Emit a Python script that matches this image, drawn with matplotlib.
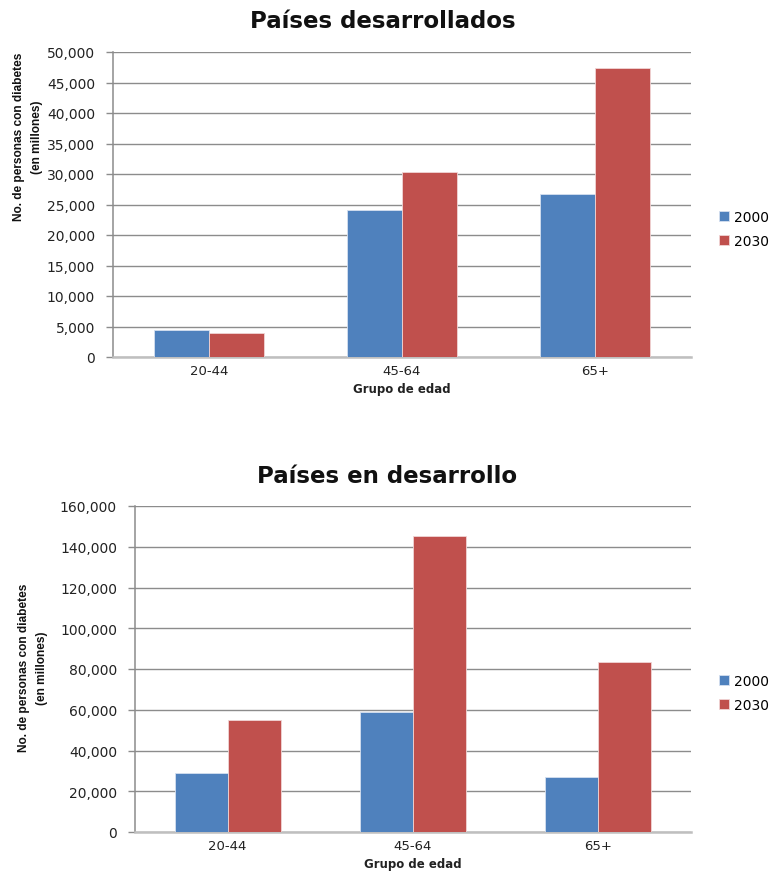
import matplotlib
matplotlib.use("Agg")
import matplotlib.pyplot as plt
import numpy as np

# Data
groups = ["20-44", "45-64", "65+"]
series_names = ["2000", "2030"]
developed_2000 = [4500, 24100, 26700]
developed_2030 = [3900, 30300, 47400]
developing_2000 = [28800, 58700, 27200]
developing_2030 = [54800, 145300, 83400]

dev_ticks = [0, 5000, 10000, 15000, 20000, 25000, 30000, 35000, 40000, 45000, 50000]
devg_ticks = [0, 20000, 40000, 60000, 80000, 100000, 120000, 140000, 160000]

BLUE = "#4F81BD"
RED = "#C0504D"
GRID = "#8C8C8C"

label_font = ["Liberation Sans Narrow", "Liberation Sans", "DejaVu Sans"]

fig = plt.figure(figsize=(7.72, 8.78), dpi=100)


def draw_panel(rect, v2000, v2030, ticks, title, title_xy, ylab_xy, legend_xy):
    ax = fig.add_axes(rect)
    x = np.arange(len(groups))
    w = 0.286
    ax.bar(x - w / 2, v2000, width=w, color=BLUE, edgecolor="#D5E0F0",
           linewidth=0.6, label=series_names[0], zorder=3)
    ax.bar(x + w / 2, v2030, width=w, color=RED, edgecolor="#F0D5D5",
           linewidth=0.6, label=series_names[1], zorder=3)
    ax.set_xlim(-0.5, len(groups) - 0.5)
    ax.set_ylim(ticks[0], ticks[-1])
    ax.set_yticks(ticks)
    ax.set_yticklabels([f"{t:,}" for t in ticks], fontsize=10, color="#222222")
    ax.set_xticks(x)
    ax.set_xticklabels(groups, fontsize=9.5, color="#222222")
    ax.tick_params(axis="x", length=0, pad=5)
    ax.tick_params(axis="y", length=5, color=GRID, width=1, pad=8)
    ax.yaxis.grid(True, color=GRID, linewidth=1.0, zorder=0)
    ax.set_axisbelow(True)
    for s in ("top", "right"):
        ax.spines[s].set_visible(False)
    ax.spines["left"].set_color(GRID)
    ax.spines["left"].set_linewidth(1.1)
    ax.spines["bottom"].set_color("#BFBFBF")
    ax.spines["bottom"].set_linewidth(1.8)
    ax.set_xlabel("Grupo de edad", fontsize=8.5, fontweight="bold",
                  labelpad=4, color="#222222")
    fig.text(title_xy[0], title_xy[1], title, ha="center", va="center",
             fontsize=16.5, fontweight="bold", color="#111111")
    fig.text(ylab_xy[0], ylab_xy[1],
             "No. de personas con diabetes\n(en millones)",
             rotation=90, ha="center", va="center", multialignment="center",
             fontsize=8.6, fontweight="bold", family=label_font,
             linespacing=1.75, color="#111111")
    ax.legend(loc="center left", bbox_to_anchor=legend_xy,
              bbox_transform=fig.transFigure, frameon=False, fontsize=10,
              handlelength=0.75, handleheight=0.75, handletextpad=0.3,
              labelspacing=0.75, borderpad=0, borderaxespad=0)
    return ax


W, H = 772, 878
draw_panel([113 / W, 1 - 358 / H, (691 - 113) / W, (358 - 53) / H],
           developed_2000, developed_2030, dev_ticks,
           "Países desarrollados", (383 / W, 1 - 22 / H),
           (28 / W, 1 - 137 / H), (719 / W, 1 - 230 / H))
draw_panel([135 / W, 1 - 833 / H, (691 - 135) / W, (833 - 507) / H],
           developing_2000, developing_2030, devg_ticks,
           "Países en desarrollo", (387 / W, 1 - 477 / H),
           (33 / W, 1 - 668 / H), (719 / W, 1 - 694 / H))

fig.savefig("out.png", dpi=100, facecolor="white")
